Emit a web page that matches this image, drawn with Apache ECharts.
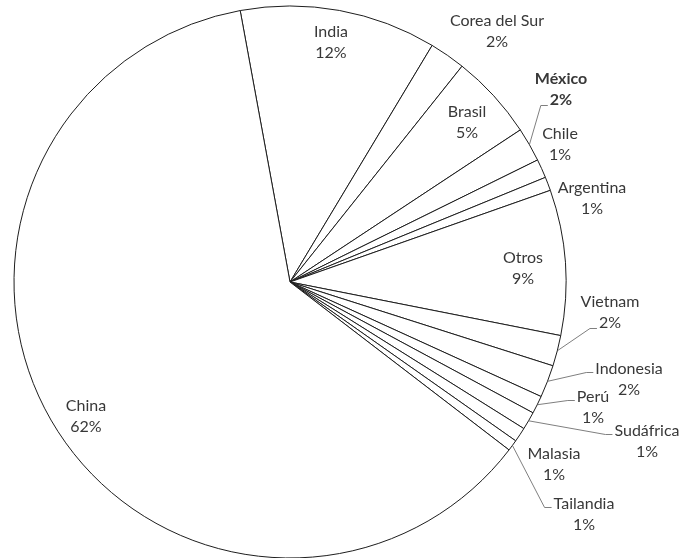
<!DOCTYPE html>
<html>
<head>
<meta charset="utf-8">
<script src="https://cdn.jsdelivr.net/npm/echarts@6/dist/echarts.min.js"></script>
<style>
  html, body { margin: 0; padding: 0; background: #fff; }
  #chart { width: 680px; height: 558px; }
</style>
</head>
<body>
<div id="chart"></div>
<script>
// Shares by country (%), listed clockwise starting from India
const countries = ['India', 'Corea del Sur', 'Brasil', 'México', 'Chile', 'Argentina', 'Otros',
  'Vietnam', 'Indonesia', 'Perú', 'Sudáfrica', 'Malasia', 'Tailandia', 'China'];
const shares = [11.5, 2.1, 5.0, 2.0, 1.1, 0.8, 8.5, 1.8, 1.9, 1.05, 1.05, 0.85, 0.65, 61.7];

// Leader lines: which text line of the label (1 = name, 2 = percentage) the line meets
const leaderAttach = { 'México': 2, 'Vietnam': 2, 'Indonesia': 1, 'Perú': 1, 'Sudáfrica': 1, 'Tailandia': 1 };
// Countries drawn with a bold label
const boldLabels = ['México'];

// Label block centres (px)
const labelSpots = [
  [331, 42], [497, 31], [467, 122], [561, 89], [560, 144], [592, 198], [523, 268],
  [610, 312], [629, 379], [593, 407], [647, 441], [554, 464], [584, 514], [86, 416]
];

const FONT_FAMILY = 'Lato';
const FONT_SIZE = 16;
const LINE_HEIGHT = 21;

const total = shares.reduce((a, b) => a + b, 0);
const pctText = v => Math.round(v / total * 100) + '%';

// Text width helper used to end leader lines right at the text
const measureCtx = document.createElement('canvas').getContext('2d');
function textWidth(str, bold) {
  measureCtx.font = (bold ? 'bold ' : '') + FONT_SIZE + 'px ' + FONT_FAMILY;
  return measureCtx.measureText(str).width;
}

const chart = echarts.init(document.getElementById('chart'), null, { renderer: 'canvas' });

const seriesData = countries.map((name, i) => ({
  name: name,
  value: shares[i],
  label: { fontWeight: boldLabels.includes(name) ? 'bold' : 'normal' },
  labelLine: { show: name in leaderAttach }
}));

chart.setOption({
  animation: false,
  backgroundColor: '#ffffff',
  series: [{
    type: 'pie',
    center: [290, 282],
    radius: 276,
    startAngle: 100.4,
    clockwise: true,
    avoidLabelOverlap: false,
    itemStyle: { color: '#ffffff', borderColor: '#1e1e1e', borderWidth: 1 },
    emphasis: { disabled: true },
    label: {
      show: true,
      position: 'outside',
      color: '#383838',
      fontFamily: FONT_FAMILY,
      fontSize: FONT_SIZE,
      lineHeight: LINE_HEIGHT,
      align: 'center',
      formatter: p => p.name + '\n' + pctText(p.value)
    },
    labelLine: {
      show: false,
      length: 10,
      length2: 6,
      lineStyle: { color: '#7f7f7f', width: 1 }
    },
    labelLayout: params => {
      const i = params.dataIndex;
      const name = countries[i];
      const [cx, cy] = labelSpots[i];
      const layout = { x: cx, y: cy, align: 'center', verticalAlign: 'middle' };
      const attach = leaderAttach[name];
      if (attach && params.labelLinePoints) {
        const bold = boldLabels.includes(name);
        const lineText = attach === 1 ? name : pctText(shares[i]);
        const endX = cx - textWidth(lineText, bold) / 2 - 2;
        const endY = attach === 1 ? cy - LINE_HEIGHT / 2 + 4 : cy + LINE_HEIGHT / 2 + 6;
        const start = params.labelLinePoints[0];
        layout.labelLinePoints = [[start[0], start[1]], [endX - 7, endY], [endX, endY]];
      }
      return layout;
    },
    data: seriesData
  }]
});
</script>
</body>
</html>
